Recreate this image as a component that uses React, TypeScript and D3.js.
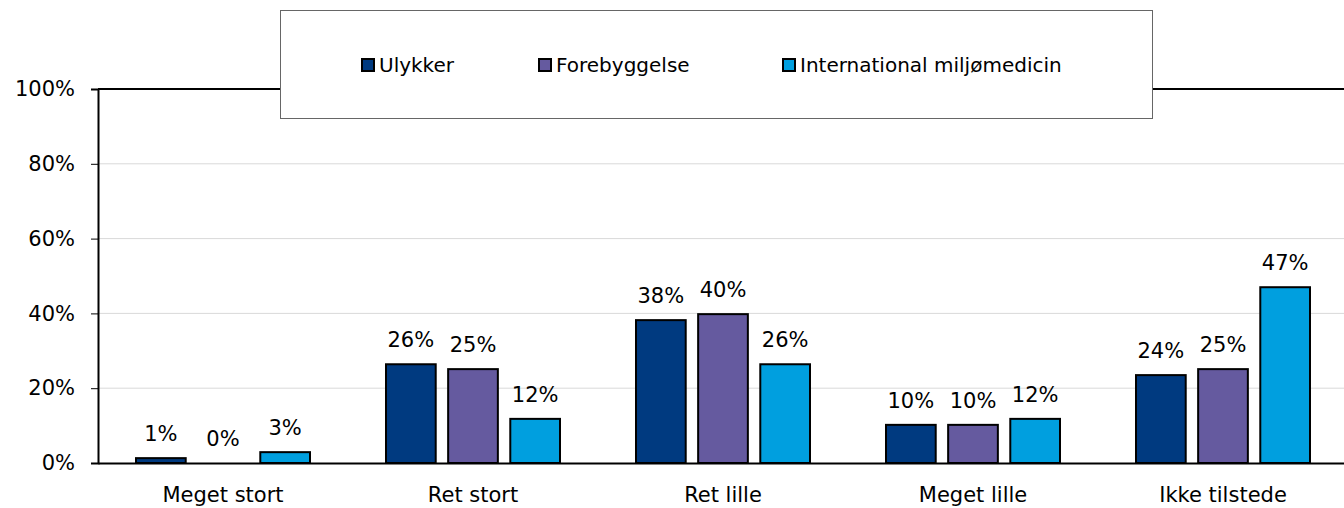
import React, { useEffect, useRef } from "react";
import * as d3 from "d3";

const categories = ["Meget stort", "Ret stort", "Ret lille", "Meget lille", "Ikke tilstede"];
const seriesNames = ["Ulykker", "Forebyggelse", "International miljømedicin"];
const ulykker = [1.3, 26.4, 38.2, 10.2, 23.5];
const forebyggelse = [0, 25.1, 39.8, 10.2, 25.1];
const international = [2.9, 11.8, 26.4, 11.8, 47.0];
const yTicks = [0, 20, 40, 60, 80, 100];
const colors = ["#003A80", "#655A9F", "#009FDF"];

const width = 1344;
const height = 508;
const margin = { top: 89, right: -4, bottom: 45, left: 98 };
const font = "'DejaVu Sans', sans-serif";

export default function App() {
  const ref = useRef<SVGSVGElement>(null);

  useEffect(() => {
    const svg = d3.select(ref.current);
    svg.selectAll("*").remove();

    const series = [ulykker, forebyggelse, international];
    const x = d3
      .scaleBand()
      .domain(categories)
      .range([margin.left, width - margin.right]);
    const y = d3.scaleLinear().domain([0, 100]).range([height - margin.bottom, margin.top]);
    const inner = d3.scaleBand().domain(seriesNames).range([0, 174]).paddingInner(0.2);
    const barX = (i: number, si: number) =>
      x(categories[i])! + x.bandwidth() / 2 - 87 + inner(seriesNames[si])!;

    // gridlines
    svg
      .append("g")
      .selectAll("line")
      .data(yTicks.filter((t) => t > 0 && t < 100))
      .enter()
      .append("line")
      .attr("x1", margin.left)
      .attr("x2", width)
      .attr("y1", (d) => y(d))
      .attr("y2", (d) => y(d))
      .attr("stroke", "#d9d9d9")
      .attr("stroke-width", 1);

    // top border
    svg
      .append("line")
      .attr("x1", margin.left)
      .attr("x2", width)
      .attr("y1", y(100))
      .attr("y2", y(100))
      .attr("stroke", "#000")
      .attr("stroke-width", 2);

    // bars + labels
    series.forEach((vals, si) => {
      const g = svg.append("g");
      g.selectAll("rect")
        .data(vals)
        .enter()
        .append("rect")
        .attr("x", (d, i) => barX(i, si))
        .attr("y", (d) => y(d))
        .attr("width", inner.bandwidth())
        .attr("height", (d) => y(0) - y(d))
        .attr("fill", colors[si])
        .attr("stroke", "#000")
        .attr("stroke-width", 2);
      g.selectAll("text")
        .data(vals)
        .enter()
        .append("text")
        .attr("x", (d, i) => barX(i, si) + inner.bandwidth() / 2)
        .attr("y", (d) => y(d) - 17)
        .attr("text-anchor", "middle")
        .attr("font-family", font)
        .attr("font-size", 21)
        .attr("fill", "#000")
        .text((d) => `${Math.round(d)}%`);
    });

    // y axis
    const yAxis = svg
      .append("g")
      .attr("transform", `translate(${margin.left},0)`)
      .call(
        d3
          .axisLeft(y)
          .tickValues(yTicks)
          .tickSize(7)
          .tickPadding(16)
          .tickFormat((d) => `${d}%`)
      );
    yAxis.select(".domain").attr("stroke", "#000").attr("stroke-width", 2);
    yAxis.selectAll(".tick line").attr("stroke", "#000").attr("stroke-width", 1);
    yAxis
      .selectAll(".tick text")
      .attr("font-family", font)
      .attr("font-size", 21)
      .attr("fill", "#000");

    // x axis
    const xAxis = svg
      .append("g")
      .attr("transform", `translate(0,${y(0)})`)
      .call(d3.axisBottom(x).tickSize(0).tickPadding(24));
    xAxis.select(".domain").attr("stroke", "#000").attr("stroke-width", 2);
    xAxis
      .selectAll(".tick text")
      .attr("font-family", font)
      .attr("font-size", 21)
      .attr("fill", "#000");

    // legend
    const lg = svg.append("g");
    lg.append("rect")
      .attr("x", 280.5)
      .attr("y", 10.5)
      .attr("width", 872)
      .attr("height", 108)
      .attr("fill", "#fff")
      .attr("stroke", "#666")
      .attr("stroke-width", 1);
    const legendX = [362, 539, 783];
    seriesNames.forEach((name, i) => {
      lg.append("rect")
        .attr("x", legendX[i])
        .attr("y", 59)
        .attr("width", 12)
        .attr("height", 12)
        .attr("fill", colors[i])
        .attr("stroke", "#000")
        .attr("stroke-width", 2);
      lg.append("text")
        .attr("x", legendX[i] + 17)
        .attr("y", 72)
        .attr("font-family", font)
        .attr("font-size", 20)
        .attr("fill", "#000")
        .text(name);
    });
  }, []);

  return (
    <svg
      ref={ref}
      width={width}
      height={height}
      style={{ position: "absolute", left: 0, top: 0, background: "#fff" }}
    ></svg>
  );
}
